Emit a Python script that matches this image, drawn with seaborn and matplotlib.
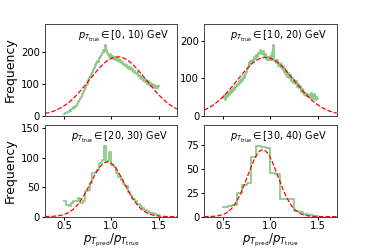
import numpy as np
import pandas as pd
import seaborn as sns
import matplotlib
matplotlib.use("Agg")
import matplotlib.pyplot as plt

# pT_true bins shown in each panel
bin_labels = ["[0, 10)", "[10, 20)", "[20, 30)", "[30, 40)"]

# histogram counts of pT_pred / pT_true, range 0.5 - 1.5
counts_0_10 = [
    6, 9, 8, 12, 10, 14, 18, 16, 22, 20,
    26, 24, 32, 30, 38, 42, 48, 55, 60, 68,
    76, 82, 88, 95, 100, 104, 112, 118, 125, 130,
    138, 145, 150, 158, 165, 172, 168, 180, 186, 192,
    198, 205, 200, 212, 222, 208, 196, 190, 184, 194,
    182, 188, 178, 186, 176, 180, 172, 178, 168, 174,
    165, 170, 162, 158, 164, 155, 160, 150, 154, 148,
    152, 144, 146, 138, 142, 134, 130, 136, 126, 128,
    120, 124, 116, 118, 110, 114, 106, 112, 100, 108,
    98, 104, 94, 100, 90, 96, 88, 94, 86, 92,
]
counts_10_20 = [
    48, 55, 42, 58, 50, 62, 56, 66, 60, 70,
    64, 74, 68, 80, 76, 86, 82, 92, 88, 98,
    94, 106, 102, 112, 118, 124, 130, 140, 136, 146,
    142, 150, 146, 158, 152, 162, 156, 168, 164, 176,
    170, 166, 174, 160, 164, 152, 158, 150, 156, 148,
    160, 150, 170, 189, 146, 150, 140, 148, 134, 140,
    130, 138, 124, 132, 118, 126, 112, 120, 104, 114,
    100, 108, 94, 102, 88, 96, 84, 92, 78, 86,
    74, 80, 64, 72, 60, 66, 56, 62, 52, 58,
    50, 56, 46, 60, 44, 52, 58, 42, 50, 44,
]
counts_20_30 = [
    26, 20, 18, 23, 26, 26, 32, 24, 26, 43,
    45, 58, 74, 76, 80, 92, 96, 120, 95, 110,
    88, 85, 75, 68, 63, 55, 52, 42, 36, 30,
    26, 22, 18, 15, 12, 10, 7, 6, 4, 3,
]
counts_30_40 = [
    10, 11, 12, 25, 33, 35, 63, 74, 73, 72,
    46, 45, 19, 18, 19, 6, 5, 3, 2, 1,
]
all_counts = [counts_0_10, counts_10_20, counts_20_30, counts_30_40]

# gaussian fit parameters (amplitude, mean, sigma)
fit_amp = [185, 156, 93, 70]
fit_mean = [1.07, 0.95, 0.96, 0.92]
fit_sigma = [0.30, 0.30, 0.18, 0.16]

plt.rcParams["font.family"] = "DejaVu Sans"

fig, axes = plt.subplots(2, 2, figsize=(3.74, 2.49), dpi=100, sharex=True)
fig.subplots_adjust(left=0.12, right=0.9, top=0.904, bottom=0.13,
                    wspace=0.2, hspace=0.1)

xfit = np.linspace(0.3, 1.7, 300)

for i, ax in enumerate(axes.flat):
    counts = np.array(all_counts[i], dtype=float)
    nb = len(counts)
    edges = np.linspace(0.5, 1.5, nb + 1)
    centers = (edges[:-1] + edges[1:]) / 2
    df = pd.DataFrame({"ratio": centers, "count": counts})
    sns.histplot(data=df, x="ratio", weights="count", bins=nb,
                 binrange=(0.5, 1.5), element="step", fill=False,
                 color="#2ca02c", alpha=0.55, linewidth=1.3, ax=ax)
    gauss = fit_amp[i] * np.exp(-(xfit - fit_mean[i]) ** 2 / (2 * fit_sigma[i] ** 2))
    sns.lineplot(x=xfit, y=gauss, color="red", linestyle="--",
                 linewidth=0.9, ax=ax)
    ax.set_xlim(0.3, 1.7)
    ax.set_ylim(0, counts.max() * 1.3)
    ax.text(0.93, 0.94, r"$p_{T_{\rm true}} \in $" + bin_labels[i] + " GeV",
            transform=ax.transAxes, ha="right", va="top", fontsize=7)
    ax.tick_params(labelsize=7.2, length=2, width=0.7, pad=1.5)
    for s in ax.spines.values():
        s.set_linewidth(0.7)
        s.set_color("#444444")
    ax.set_xticks([0.5, 1.0, 1.5])
    if i % 2 == 0:
        ax.set_ylabel("Frequency", fontsize=9, labelpad=3)
    else:
        ax.set_ylabel("")
    if i >= 2:
        ax.set_xlabel(r"$p_{T_{\rm pred}}/p_{T_{\rm true}}$", fontsize=8.5,
                      labelpad=0.5)
    else:
        ax.set_xlabel("")

fig.savefig("out.png", dpi=100)
